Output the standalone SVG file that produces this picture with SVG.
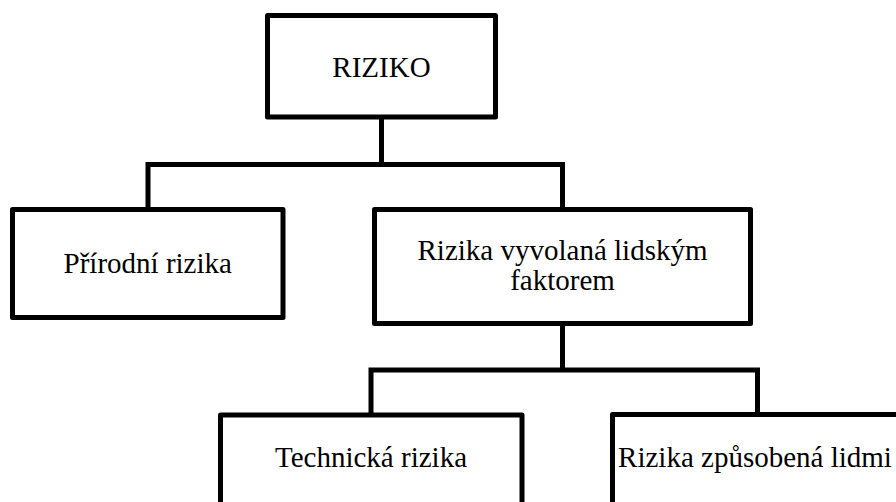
<svg xmlns="http://www.w3.org/2000/svg" width="896" height="502" viewBox="0 0 896 502">
  <style>
    .box { fill: #ffffff; stroke: #000000; stroke-width: 5; stroke-linejoin: round; }
    .link { fill: none; stroke: #000000; stroke-width: 5; stroke-linejoin: miter; }
    .label { font-family: 'Liberation Serif', 'Times New Roman', serif; font-size: 29px; fill: #000000; text-anchor: middle; }
  </style>
  <rect width="896" height="502" fill="#ffffff"/>

  <!-- connectors -->
  <g id="connectors">
    <path class="link" d="M381.5,117 V164.5"/>
    <path class="link" d="M148,209.5 V164.5 H562.5 V209.5"/>
    <path class="link" d="M562.5,323.5 V370"/>
    <path class="link" d="M371,415 V370 H757.5 V414.5"/>
  </g>

  <!-- root -->
  <g id="riziko">
    <rect class="box" x="267.5" y="15.5" width="228" height="101.5"/>
    <text class="label" x="381.5" y="77">RIZIKO</text>
  </g>

  <!-- first level -->
  <g id="prirodni">
    <rect class="box" x="12.5" y="209.5" width="270.5" height="108"/>
    <text class="label" x="147.75" y="273">Přírodní rizika</text>
  </g>
  <g id="lidsky-faktor">
    <rect class="box" x="374.5" y="209.5" width="376" height="114"/>
    <text class="label" x="562.5" y="260">Rizika vyvolaná lidským</text>
    <text class="label" x="562.5" y="290">faktorem</text>
  </g>

  <!-- second level -->
  <g id="technicka">
    <rect class="box" x="220.5" y="415" width="301.5" height="120"/>
    <text class="label" x="371" y="467">Technická rizika</text>
  </g>
  <g id="zpusobena-lidmi">
    <rect class="box" x="612.5" y="414.5" width="290" height="120"/>
    <text class="label" x="755" y="467">Rizika způsobená lidmi</text>
  </g>
</svg>
